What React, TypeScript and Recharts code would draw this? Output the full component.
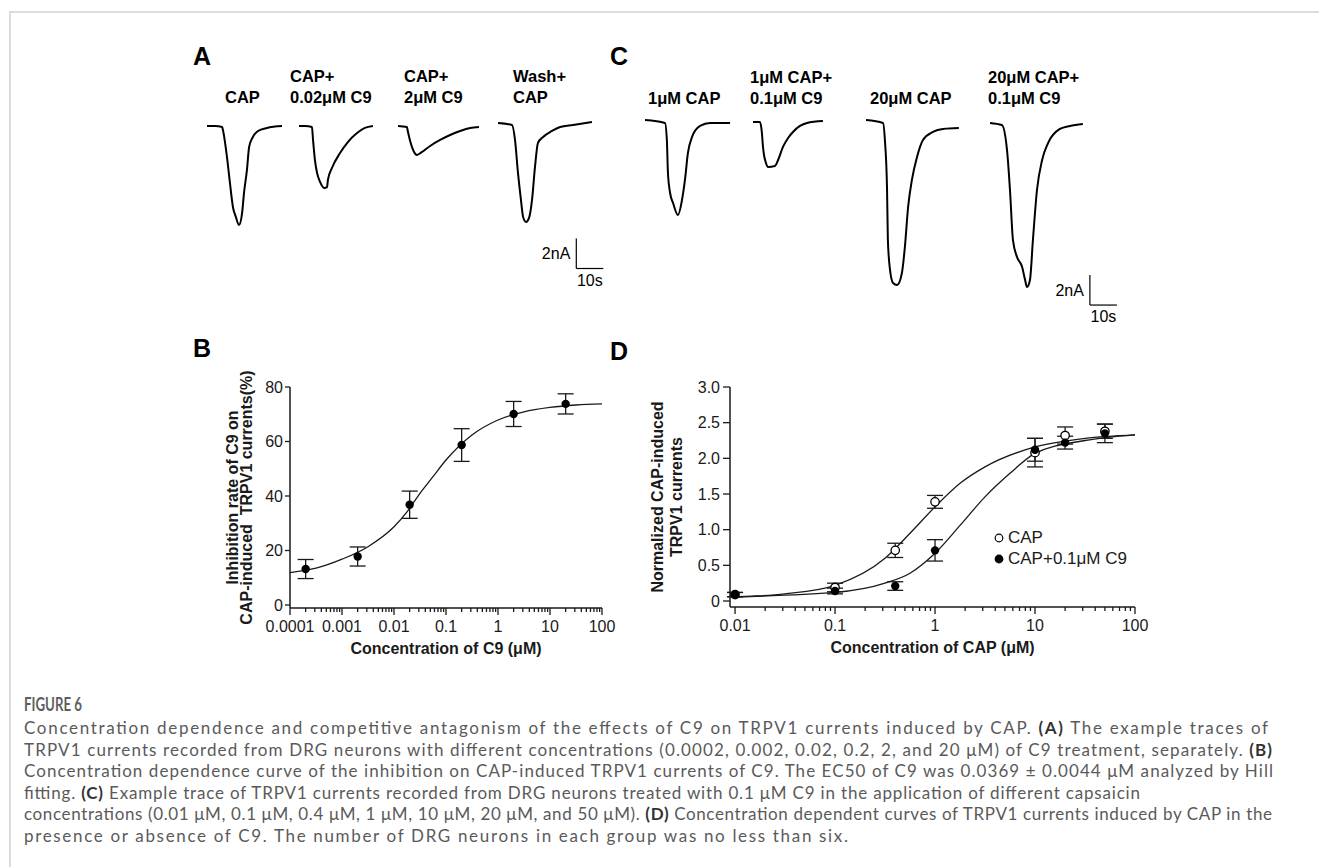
import React from "react";
import {
  ComposedChart,
  LineChart,
  Line,
  Scatter,
  ErrorBar,
  XAxis,
  YAxis,
  ReferenceLine,
} from "recharts";

// ---------- panel A traces, [time (s), current (nA)] ----------
const traceCap: [number, number][] = [
  [0, 0], [3, 0], [5.6, -0.07], [5.9, -0.27], [7.4, -2.07], [8.5, -3.8], [9.6, -5.4],
  [10.7, -6.07], [11.85, -6.6], [13, -5.8], [13.7, -4.47], [14.8, -2.93], [15.6, -1.4],
  [17, -0.73], [18.9, -0.33], [22.2, -0.13], [27.8, 0],
];
const traceC9low: [number, number][] = [
  [0, 0], [2.2, 0], [4.8, -0.07], [5.2, -0.93], [5.9, -2.27], [6.7, -3.13], [7.8, -3.73],
  [9.3, -4.13], [10.4, -4.07], [10.7, -3.6], [12.2, -2.8], [15.2, -1.8], [18.1, -1.07],
  [21.5, -0.47], [24.4, -0.13], [27.4, 0],
];
const traceC9high: [number, number][] = [
  [0, 0], [3.3, -0.07], [3.7, -0.4], [4.4, -0.93], [5.6, -1.6], [7, -1.93], [8.9, -1.73],
  [11.9, -1.33], [15.6, -0.93], [19.3, -0.6], [23, -0.33], [26.7, -0.13], [30, -0.07],
];
const traceWash: [number, number][] = [
  [0, 0.2], [5.2, 0.07], [6.3, -0.93], [7.4, -3.13], [8.5, -4.93], [9.3, -6.07], [10.4, -6.4],
  [11.5, -6.13], [12.6, -4.93], [13.7, -2.73], [14.8, -1.13], [16.7, -0.73], [20, -0.33],
  [23, -0.07], [27.8, 0.07], [34.8, 0.27],
];

// ---------- panel C traces ----------
const trace1Cap: [number, number][] = [
  [0, 0.07], [7.4, -0.13], [8.1, -1.27], [8.5, -3.47], [9.3, -4.8], [10.4, -5.47], [12.2, -6.27],
  [13.7, -5.27], [14.8, -3.93], [15.9, -2.13], [17.4, -1.07], [20.4, -0.33], [24.1, -0.13],
  [31.5, -0.13],
];
const trace1CapC9: [number, number][] = [
  [0, -0.07], [2.6, -0.07], [3.3, -0.8], [3.7, -1.73], [4.8, -2.8], [5.6, -3.07], [8.1, -3.0],
  [9.3, -2.6], [11.1, -1.73], [13, -1.13], [14.8, -0.73], [17.4, -0.33], [20, -0.13], [25.9, 0],
];
const trace20Cap: [number, number][] = [
  [0, 0.07], [6.3, -0.13], [7, -1.27], [7.8, -4.6], [8.1, -7.93], [8.9, -9.93], [10, -10.8],
  [11.5, -10.93], [13.3, -10.13], [14.4, -8.4], [15.6, -5.73], [17, -3.93], [18.9, -2.4],
  [21.1, -1.27], [24.8, -0.73], [28.5, -0.53], [34.4, -0.47],
];
const trace20CapC9: [number, number][] = [
  [0, -0.13], [4.4, -0.27], [6.3, -1.93], [7.4, -4.6], [8.5, -7.93], [10, -9.07], [11.9, -9.73],
  [13, -10.6], [13.7, -11.07], [14.8, -10.6], [15.9, -7.93], [17.4, -4.6], [19.3, -2.6],
  [21.5, -1.47], [25.9, -0.53], [29.6, -0.33], [34.4, -0.2],
];

const SCALE_NA = 2;
const SCALE_S = 10;

// ---------- panel B ----------
const bConc = [0.0002, 0.002, 0.02, 0.2, 2, 20];
const bMean = [13.2, 17.8, 36.8, 58.7, 70.1, 73.8];
const bSem = [3.5, 3.5, 5, 6, 4.6, 3.7];
const bFitConc = [0.0001, 0.000316, 0.001, 0.00316, 0.01, 0.0178, 0.0316, 0.0562, 0.1, 0.316, 1, 3.16, 10, 31.6, 100];
const bFitVal = [11.9, 13.5, 16.8, 21.4, 28.7, 34.2, 41, 47.1, 53.2, 62.4, 67.9, 70.9, 72.5, 73.4, 73.8];
const bXTicks = [0.0001, 0.001, 0.01, 0.1, 1, 10, 100];
const bYTicks = [0, 20, 40, 60, 80];

// ---------- panel D ----------
const dConc = [0.01, 0.1, 0.4, 1, 10, 20, 50];
const dCapMean = [0.09, 0.19, 0.71, 1.39, 2.08, 2.32, 2.38];
const dCapSem = [0.03, 0.06, 0.1, 0.09, 0.2, 0.12, 0.1];
const dC9Mean = [0.09, 0.14, 0.21, 0.71, 2.12, 2.22, 2.35];
const dC9Sem = [0.03, 0.04, 0.06, 0.15, 0.16, 0.09, 0.13];
const dCapFitConc = [0.01, 0.0316, 0.1, 0.316, 0.562, 1, 1.78, 3.16, 10, 31.6, 100];
const dCapFitVal = [0.06, 0.1, 0.22, 0.6, 0.95, 1.32, 1.65, 1.88, 2.16, 2.28, 2.33];
const dC9FitConc = [0.01, 0.1, 0.316, 0.562, 1, 1.78, 3.16, 5.62, 10, 31.6, 100];
const dC9FitVal = [0.06, 0.12, 0.25, 0.39, 0.67, 1.06, 1.46, 1.79, 2.07, 2.25, 2.33];
const dXTicks = [0.01, 0.1, 1, 10, 100];
const dYTicks = [0, 0.5, 1, 1.5, 2, 2.5, 3];

const FONT = "Arial, 'Liberation Sans', Helvetica, sans-serif";
const INK = "#1a1a1a";
const PX_PER_S = 2.7;
const PX_PER_NA = 15;
const I_TOP = 1;
const I_BOT = -14;

const toPts = (arr: [number, number][]) => arr.map(([t, i]) => ({ t, i }));
const toXY = (xs: number[], ys: number[], err?: number[]) =>
  xs.map((x, k) => ({ x, y: ys[k], err: err ? err[k] : 0 }));

// majors plus 2..9 minors in each decade
const logTicks = (majors: number[]) => {
  const out: number[] = [];
  majors.forEach((m, k) => {
    out.push(m);
    if (k < majors.length - 1) for (let j = 2; j <= 9; j++) out.push(m * j);
  });
  return out;
};

function Trace({ data, left, base, span, children }: any) {
  return (
    <div style={{ position: "absolute", left, top: base - I_TOP * PX_PER_NA }}>
      <LineChart
        width={span * PX_PER_S}
        height={(I_TOP - I_BOT) * PX_PER_NA}
        data={toPts(data)}
        margin={{ top: 0, right: 0, bottom: 0, left: 0 }}
      >
        <XAxis dataKey="t" type="number" domain={[0, span]} hide allowDataOverflow />
        <YAxis type="number" domain={[I_BOT, I_TOP]} hide allowDataOverflow />
        <Line
          dataKey="i"
          type="monotone"
          stroke="#000"
          strokeWidth={2}
          dot={false}
          isAnimationActive={false}
        />
        {children}
      </LineChart>
    </div>
  );
}

function scaleBar(t: number, i: number) {
  const lbl = { fontSize: 16, fill: "#000", fontFamily: FONT };
  return [
    <ReferenceLine
      key="v"
      segment={[{ x: t, y: i }, { x: t, y: i + SCALE_NA }]}
      stroke="#000"
      strokeWidth={1.2}
      label={{ ...lbl, value: `${SCALE_NA}nA`, position: "left", offset: 6 }}
    />,
    <ReferenceLine
      key="h"
      segment={[{ x: t, y: i }, { x: t + SCALE_S, y: i }]}
      stroke="#000"
      strokeWidth={1.2}
      label={{ ...lbl, value: `${SCALE_S}s`, position: "bottom", offset: 6 }}
    />,
  ];
}

function TraceLabel({ lines, left, lastCenter }: any) {
  const lh = 21;
  return (
    <div
      style={{
        position: "absolute",
        left,
        top: lastCenter - (lines.length - 0.5) * lh,
        fontFamily: FONT,
        fontWeight: 700,
        fontSize: 16.5,
        lineHeight: `${lh}px`,
        color: "#000",
        whiteSpace: "nowrap",
      }}
    >
      {lines.map((l: string) => (
        <div key={l}>{l}</div>
      ))}
    </div>
  );
}

function PanelLetter({ ch, left, cy }: any) {
  return (
    <div
      style={{
        position: "absolute",
        left,
        top: cy - 13,
        fontFamily: FONT,
        fontWeight: 700,
        fontSize: 25,
        lineHeight: "26px",
        color: "#000",
      }}
    >
      {ch}
    </div>
  );
}

function LogTick(props: any) {
  const { x, y, payload, majors } = props;
  const v = payload.value;
  const major = majors.some((m: number) => Math.abs(v / m - 1) < 1e-6);
  return (
    <g>
      <line x1={x} x2={x} y1={y} y2={y + (major ? 7 : 4)} stroke={INK} strokeWidth={1.3} />
      {major && (
        <text
          x={x}
          y={y + 18}
          textAnchor="middle"
          dominantBaseline="central"
          fontSize={16}
          fill={INK}
          fontFamily={FONT}
        >
          {String(v)}
        </text>
      )}
    </g>
  );
}

function yTitle(lines: string[], fromRight: number[]) {
  return (p: any) => {
    const { x, y, width, height } = p.viewBox;
    const cy = y + height / 2;
    return (
      <g>
        {lines.map((t, k) => {
          const cx = x + width - fromRight[k];
          return (
            <text
              key={t}
              x={cx}
              y={cy}
              transform={`rotate(-90 ${cx} ${cy})`}
              textAnchor="middle"
              dominantBaseline="central"
              fontSize={16}
              fontWeight={700}
              fill={INK}
              fontFamily={FONT}
              style={{ whiteSpace: "pre" }}
            >
              {t}
            </text>
          );
        })}
      </g>
    );
  };
}

function xTitle(text: string) {
  return (p: any) => {
    const { x, y, width } = p.viewBox;
    return (
      <text
        x={x + width / 2}
        y={y + 40}
        textAnchor="middle"
        dominantBaseline="central"
        fontSize={16}
        fontWeight={700}
        fill={INK}
        fontFamily={FONT}
      >
        {text}
      </text>
    );
  };
}

const dotFilled = (p: any) => <circle cx={p.cx} cy={p.cy} r={4.2} fill="#000" />;
const dotOpen = (p: any) => (
  <circle cx={p.cx} cy={p.cy} r={4.2} fill="#fff" stroke="#000" strokeWidth={1.3} />
);

const axisStyle = { stroke: INK, strokeWidth: 1.5 };
const yTick = { fontSize: 16, fill: INK, fontFamily: FONT };

function PanelB() {
  return (
    <div style={{ position: "absolute", left: 150, top: 370 }}>
      <ComposedChart width={482} height={300} margin={{ top: 17, right: 30, bottom: 0, left: 0 }}>
        <XAxis
          dataKey="x"
          type="number"
          scale="log"
          domain={[0.0001, 100]}
          allowDataOverflow
          ticks={logTicks(bXTicks)}
          interval={0}
          tickSize={0}
          tickMargin={0}
          tickLine={false}
          axisLine={axisStyle}
          height={62}
          tick={(p: any) => <LogTick {...p} majors={bXTicks} />}
          label={xTitle("Concentration of C9 (μM)")}
        />
        <YAxis
          type="number"
          domain={[-1.1, 80]}
          allowDataOverflow
          ticks={bYTicks}
          interval={0}
          width={140}
          tickSize={5}
          tickMargin={2}
          tickLine={{ stroke: INK, strokeWidth: 1.3 }}
          axisLine={axisStyle}
          tick={yTick}
          label={yTitle(["Inhibition rate of C9 on", "CAP-induced  TRPV1 currents(%)"], [58, 44])}
        />
        <Line
          data={toXY(bFitConc, bFitVal)}
          dataKey="y"
          type="monotone"
          stroke={INK}
          strokeWidth={1.3}
          dot={false}
          isAnimationActive={false}
        />
        <Scatter data={toXY(bConc, bMean, bSem)} dataKey="y" shape={dotFilled} isAnimationActive={false}>
          <ErrorBar dataKey="err" direction="y" width={8} stroke={INK} strokeWidth={1.3} />
        </Scatter>
      </ComposedChart>
    </div>
  );
}

function PanelD() {
  return (
    <div style={{ position: "absolute", left: 600, top: 370 }}>
      <ComposedChart width={565} height={299} margin={{ top: 17, right: 30, bottom: 0, left: 0 }}>
        <XAxis
          dataKey="x"
          type="number"
          scale="log"
          domain={[0.0089, 100]}
          allowDataOverflow
          ticks={logTicks(dXTicks)}
          interval={0}
          tickSize={0}
          tickMargin={0}
          tickLine={false}
          axisLine={axisStyle}
          height={62}
          tick={(p: any) => <LogTick {...p} majors={dXTicks} />}
          label={xTitle("Concentration of CAP (μM)")}
        />
        <YAxis
          type="number"
          domain={[-0.084, 3]}
          allowDataOverflow
          ticks={dYTicks}
          interval={0}
          width={130}
          tickSize={7}
          tickMargin={3}
          tickLine={{ stroke: INK, strokeWidth: 1.3 }}
          axisLine={axisStyle}
          tick={yTick}
          tickFormatter={(v: number) => (v === 0 ? "0" : v.toFixed(1))}
          label={yTitle(["Normalized CAP-induced", "TRPV1 currents"], [73, 54])}
        />
        <Line
          data={toXY(dCapFitConc, dCapFitVal)}
          dataKey="y"
          type="monotone"
          stroke={INK}
          strokeWidth={1.3}
          dot={false}
          isAnimationActive={false}
        />
        <Line
          data={toXY(dC9FitConc, dC9FitVal)}
          dataKey="y"
          type="monotone"
          stroke={INK}
          strokeWidth={1.3}
          dot={false}
          isAnimationActive={false}
        />
        <Scatter data={toXY(dConc, dCapMean, dCapSem)} dataKey="y" shape={dotOpen} isAnimationActive={false}>
          <ErrorBar dataKey="err" direction="y" width={8} stroke={INK} strokeWidth={1.3} />
        </Scatter>
        <Scatter data={toXY(dConc, dC9Mean, dC9Sem)} dataKey="y" shape={dotFilled} isAnimationActive={false}>
          <ErrorBar dataKey="err" direction="y" width={8} stroke={INK} strokeWidth={1.3} />
        </Scatter>
      </ComposedChart>
    </div>
  );
}

function LegendD() {
  const row = (open: boolean, text: string) => (
    <div style={{ display: "flex", alignItems: "center", height: 21 }}>
      <svg width={12} height={12} style={{ marginRight: 3 }}>
        <circle cx={6} cy={6} r={3.8} fill={open ? "#fff" : "#000"} stroke="#000" strokeWidth={1.2} />
      </svg>
      <span>{text}</span>
    </div>
  );
  return (
    <div
      style={{
        position: "absolute",
        left: 993,
        top: 527.5,
        fontFamily: FONT,
        fontSize: 17,
        color: INK,
        whiteSpace: "nowrap",
      }}
    >
      {row(true, "CAP")}
      {row(false, "CAP+0.1μM C9")}
    </div>
  );
}

// caption, one entry per printed line
const captionLines: { parts: [string, boolean][]; end: number }[] = [
  {
    parts: [
      ["Concentration dependence and competitive antagonism of the effects of C9 on TRPV1 currents induced by CAP. ", false],
      ["(A)", true],
      [" The example traces of", false],
    ],
    end: 1268,
  },
  {
    parts: [
      ["TRPV1 currents recorded from DRG neurons with different concentrations (0.0002, 0.002, 0.02, 0.2, 2, and 20 μM) of C9 treatment, separately. ", false],
      ["(B)", true],
    ],
    end: 1272,
  },
  {
    parts: [
      ["Concentration dependence curve of the inhibition on CAP-induced TRPV1 currents of C9. The EC50 of C9 was 0.0369 ± 0.0044 μM analyzed by Hill", false],
    ],
    end: 1273,
  },
  {
    parts: [
      ["fitting. ", false],
      ["(C)", true],
      [" Example trace of TRPV1 currents recorded from DRG neurons treated with 0.1 μM C9 in the application of different capsaicin", false],
    ],
    end: 1140,
  },
  {
    parts: [
      ["concentrations (0.01 μM, 0.1 μM, 0.4 μM, 1 μM, 10 μM, 20 μM, and 50 μM). ", false],
      ["(D)", true],
      [" Concentration dependent curves of TRPV1 currents induced by CAP in the", false],
    ],
    end: 1272,
  },
  {
    parts: [["presence or absence of C9. The number of DRG neurons in each group was no less than six.", false]],
    end: 848,
  },
];

function Caption() {
  const x0 = 24;
  const capFont = "Lato, 'Open Sans', sans-serif";
  return (
    <svg
      width={1319}
      height={200}
      style={{ position: "absolute", left: 0, top: 667 }}
    >
      <text
        x={x0}
        y={36}
        dominantBaseline="central"
        fontFamily={capFont}
        fontSize={19}
        fontWeight={700}
        fill="#5f5f5f"
        textLength={58}
        lengthAdjust="spacingAndGlyphs"
        style={{ whiteSpace: "pre" }}
      >
        FIGURE 6
      </text>
      {captionLines.map((ln, k) => (
        <text
          key={k}
          x={x0}
          y={60 + k * 21.5}
          dominantBaseline="central"
          fontFamily={capFont}
          fontSize={17}
          fill="#5a5a5a"
          textLength={ln.end - x0}
          lengthAdjust="spacing"
          style={{ whiteSpace: "pre" }}
        >
          {ln.parts.map(([s, b], j) => (
            <tspan key={j} fontWeight={b ? 700 : 400} fill={b ? "#333" : "#5a5a5a"}>
              {s}
            </tspan>
          ))}
        </text>
      ))}
    </svg>
  );
}

export default function App() {
  return (
    <div
      style={{
        position: "absolute",
        left: 0,
        top: 0,
        width: 1319,
        height: 867,
        background: "#fff",
        overflow: "hidden",
      }}
    >
      <div
        style={{
          position: "absolute",
          left: 9,
          top: 11,
          right: -4,
          bottom: -4,
          borderLeft: "2px solid #dcdcdc",
          borderTop: "2px solid #dcdcdc",
        }}
      />

      <PanelLetter ch="A" left={193} cy={56} />
      <PanelLetter ch="C" left={610} cy={56} />
      <PanelLetter ch="B" left={193} cy={348} />
      <PanelLetter ch="D" left={610} cy={351} />

      <TraceLabel lines={["CAP"]} left={225} lastCenter={97.5} />
      <TraceLabel lines={["CAP+", "0.02μM C9"]} left={290} lastCenter={97.5} />
      <TraceLabel lines={["CAP+", "2μM C9"]} left={404} lastCenter={97.5} />
      <TraceLabel lines={["Wash+", "CAP"]} left={513} lastCenter={97.5} />

      <TraceLabel lines={["1μM CAP"]} left={648} lastCenter={98} />
      <TraceLabel lines={["1μM CAP+", "0.1μM C9"]} left={750} lastCenter={98} />
      <TraceLabel lines={["20μM CAP"]} left={870} lastCenter={98} />
      <TraceLabel lines={["20μM CAP+", "0.1μM C9"]} left={988} lastCenter={98} />

      <Trace data={traceCap} left={207} base={126} span={28} />
      <Trace data={traceC9low} left={299} base={126} span={28} />
      <Trace data={traceC9high} left={398} base={126} span={31} />
      <Trace data={traceWash} left={498} base={126} span={40}>
        {scaleBar(29, -9.5)}
      </Trace>

      <Trace data={trace1Cap} left={645} base={121} span={32} />
      <Trace data={trace1CapC9} left={753} base={121} span={27} />
      <Trace data={trace20Cap} left={866} base={121} span={35} />
      <Trace data={trace20CapC9} left={990} base={121} span={48}>
        {scaleBar(37, -12.27)}
      </Trace>

      <PanelB />
      <PanelD />
      <LegendD />
      <Caption />
    </div>
  );
}
